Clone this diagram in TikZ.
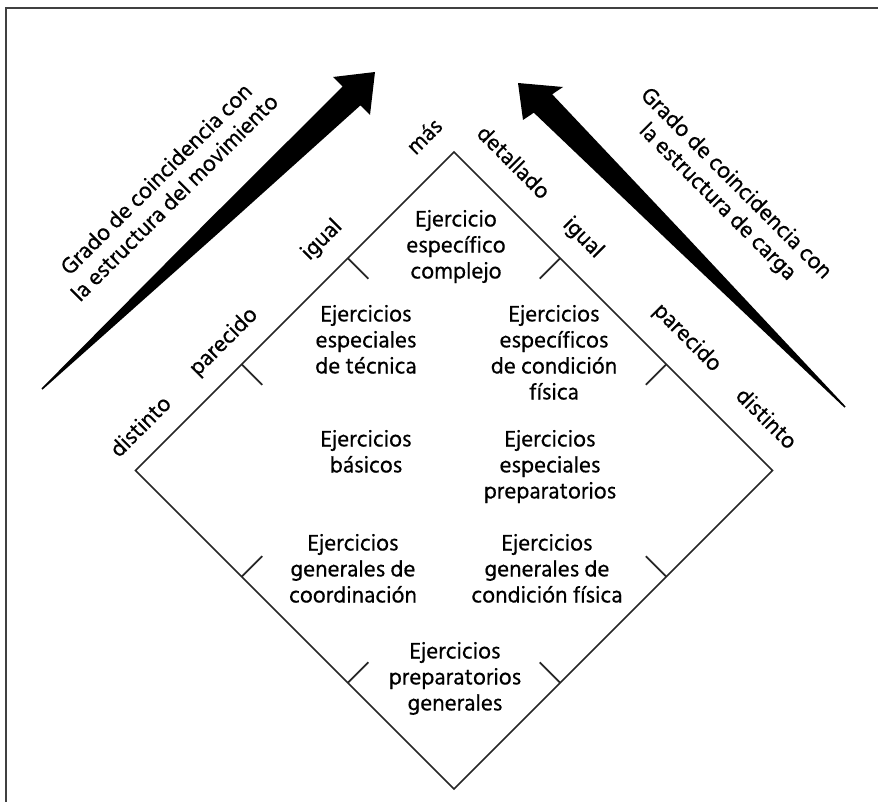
\documentclass[tikz,border=0pt]{standalone}
\usepackage{fontspec}
\setmainfont{Hind Siliguri}[FakeBold=0.5]
\usetikzlibrary{calc}
\begin{document}
\begin{tikzpicture}[x=1pt,y=-1pt,
  txt/.style={align=center,inner sep=0pt,font=\fontsize{23}{26}\selectfont},
  cell/.style={txt,anchor=north,execute at begin node=\strut},
  grade/.style={txt,anchor=center},
  dmline/.style={line width=1.6pt,draw=black!85,line join=miter},
  notch/.style={line width=1.8pt,draw=black!85},
  frameline/.style={line width=2pt,draw=black!75},
  bigarrow/.style={fill=black}]
\useasboundingbox (0,0) rectangle (878,802);

% open frame (top and left sides)
\draw[frameline] (6,802) -- (6,8) -- (878,8);

% the diamond
\coordinate (T) at (454,152);
\coordinate (R) at (772.5,470.5);
\coordinate (B) at (454,789);
\coordinate (L) at (135.5,470.5);
\draw[dmline] (T) -- (R) -- (B) -- (L) -- cycle;

% scale marks at thirds of each side, pointing inwards
\draw[notch] ($(L)!1/3!(T)$) -- ++(20.5,20.5);
\draw[notch] ($(L)!2/3!(T)$) -- ++(20.5,20.5);
\draw[notch] ($(T)!1/3!(R)$) -- ++(-20.5,20.5);
\draw[notch] ($(T)!2/3!(R)$) -- ++(-20.5,20.5);
\draw[notch] ($(L)!1/3!(B)$) -- ++(20.5,-20.5);
\draw[notch] ($(L)!2/3!(B)$) -- ++(20.5,-20.5);
\draw[notch] ($(R)!1/3!(B)$) -- ++(-20.5,-20.5);
\draw[notch] ($(R)!2/3!(B)$) -- ++(-20.5,-20.5);

% tapered arrows
\fill[bigarrow] (41.45,388.42) -- (206.7,222.0) -- (342.6,86.6) -- (333,77)
  -- (375,72) -- (370,115) -- (360.4,105.4) -- (217.7,233.7)
  -- (42.55,389.58) -- cycle;
\fill[bigarrow] (845.57,406.44) -- (684.6,234.5) -- (552.2,94.3) -- (563,87)
  -- (518,83) -- (523,120) -- (533.8,112.7) -- (673.2,245.7)
  -- (844.43,407.56) -- cycle;

% arrow captions
\node[grade,rotate=45] (capL) at (165,188)
  {Grado de coincidencia con\\la estructura del movimiento};
\node[grade,rotate=-45] (capR) at (726.5,193)
  {Grado de coincidencia con\\la estructura de carga};

% grades along the sides
\node[grade,rotate=45]  (mas)  at (424,136) {más};
\node[grade,rotate=-45] (det)  at (514,162) {detallado};
\node[grade,rotate=45]  (igL)  at (322,240) {igual};
\node[grade,rotate=-45] (igR)  at (583,238) {igual};
\node[grade,rotate=45]  (paL)  at (224,342) {parecido};
\node[grade,rotate=-45] (paR)  at (687,338) {parecido};
\node[grade,rotate=45]  (diL)  at (140,426) {distinto};
\node[grade,rotate=-45] (diR)  at (767,418) {distinto};

% exercise categories
\node[cell] (c1) at (456,209.8) {Ejercicio\\específico\\complejo};
\node[cell] (c2) at (366,304.8) {Ejercicios\\especiales\\de técnica};
\node[cell] (c3) at (554,304.8) {Ejercicios\\específicos\\de condición\\física};
\node[cell] (c4) at (366,429.8) {Ejercicios\\básicos};
\node[cell] (c5) at (550,429.8) {Ejercicios\\especiales\\preparatorios};
\node[cell] (c6) at (353,533.8) {Ejercicios\\generales de\\coordinación};
\node[cell] (c7) at (547,533.8) {Ejercicios\\generales de\\condición física};
\node[cell] (c8) at (455,641.8) {Ejercicios\\preparatorios\\generales};
\end{tikzpicture}
\end{document}
